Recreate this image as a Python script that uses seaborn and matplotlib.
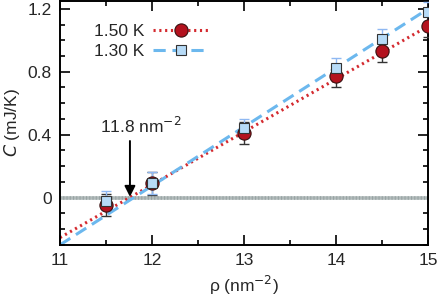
import numpy as np
import matplotlib
matplotlib.use("Agg")
import matplotlib.pyplot as plt
import seaborn as sns

sns.set_style("ticks")
plt.rcParams['font.family'] = ['Liberation Sans', 'DejaVu Sans']

# data
rho = [11.5, 12.0, 13.0, 14.0, 14.5, 15.0]
c_150 = [-0.045, 0.09, 0.41, 0.77, 0.93, 1.09]
err_150 = [0.07, 0.07, 0.07, 0.07, 0.07, 0.07]
c_130 = [-0.02, 0.095, 0.44, 0.825, 1.01, 1.18]
err_130 = [0.06, 0.07, 0.06, 0.065, 0.06, 0.06]

# linear fits, end points
fit_x = [11.0, 15.0]
fit_150 = [-0.254, 1.09]
fit_130 = [-0.30, 1.20]

red = "#d42a2f"
red_mk = "#b3121e"
blue = "#6cb8ee"
blue_mk = "#b7dbf7"

fig, ax = plt.subplots(figsize=(4.41, 2.99), dpi=100)
fig.subplots_adjust(left=0.136, right=0.971, bottom=0.181, top=0.997)

ax.axhline(0, color="#b2bbbb", lw=2.6, zorder=1)
ax.axhline(0, color="#98a3a3", lw=2.6, ls=(0, (0.3, 0.6)), zorder=1)

sns.lineplot(x=fit_x, y=fit_150, ax=ax, color=red, lw=2.2, ls=(0, (0.7, 1.2)), zorder=2)
sns.lineplot(x=fit_x, y=fit_130, ax=ax, color=blue, lw=2.2, ls=(0, (4, 2.2)), zorder=2)

ax.errorbar(rho, c_150, yerr=err_150, fmt="none", ecolor="#333333", elinewidth=1,
            capsize=3.5, capthick=1, zorder=3)
ax.errorbar(rho, c_130, yerr=err_130, fmt="none", ecolor="#8fb8f2", elinewidth=1,
            capsize=3.5, capthick=1, zorder=4)
ax.plot(rho, c_150, "o", ms=9.5, mfc=red_mk, mec="#3a1010", mew=0.8, zorder=5)
ax.plot(rho, c_130, "s", ms=6.5, mfc=blue_mk, mec="#333333", mew=0.8, zorder=6)

# legend handles
ax.plot([], [], color=red, lw=2.2, ls=(0, (0.7, 1.2)), marker="o", ms=9.5,
        mfc=red_mk, mec="#3a1010", mew=0.8, label="1.50 K")
ax.plot([], [], color=blue, lw=2.2, ls=(0, (4, 2.2)), marker="s", ms=6.5,
        mfc=blue_mk, mec="#333333", mew=0.8, label="1.30 K")
leg = ax.legend(loc="upper left", frameon=False, markerfirst=False, fontsize=12.5,
                handlelength=3.2, bbox_to_anchor=(0.05, 0.97), labelspacing=0.3,
                handletextpad=0.5)

ax.annotate("", xy=(11.76, 0.005), xytext=(11.76, 0.36),
            arrowprops=dict(arrowstyle="-|>", color="black", lw=1.4,
                            mutation_scale=16, shrinkA=0, shrinkB=0))
ax.text(11.88, 0.39, "11.8 nm$^{-2}$", ha="center", va="bottom", fontsize=12.5)

ax.set_xlim(11, 15)
ax.set_ylim(-0.3, 1.25)
ax.set_xticks([11, 12, 13, 14, 15])
ax.set_xticks(np.arange(11, 15.01, 0.5), minor=True)
ax.set_yticks([0, 0.4, 0.8, 1.2])
ax.set_yticklabels(["0", "0.4", "0.8", "1.2"])
ax.set_yticks(np.arange(-0.3, 1.25, 0.1), minor=True)
ax.tick_params(which="both", direction="in", top=True, right=True, labelsize=12.5,
               width=1.2, color="black")
ax.tick_params(which="major", length=7, pad=6)
ax.tick_params(which="minor", length=3.5)
for s in ax.spines.values():
    s.set_linewidth(1.4)
    s.set_color("black")

ax.set_xlabel("ρ (nm$^{-2}$)", fontsize=12.5, labelpad=4)
ax.set_ylabel("$C$ (mJ/K)", fontsize=12.5, labelpad=4)

fig.savefig("out.png", dpi=100)
